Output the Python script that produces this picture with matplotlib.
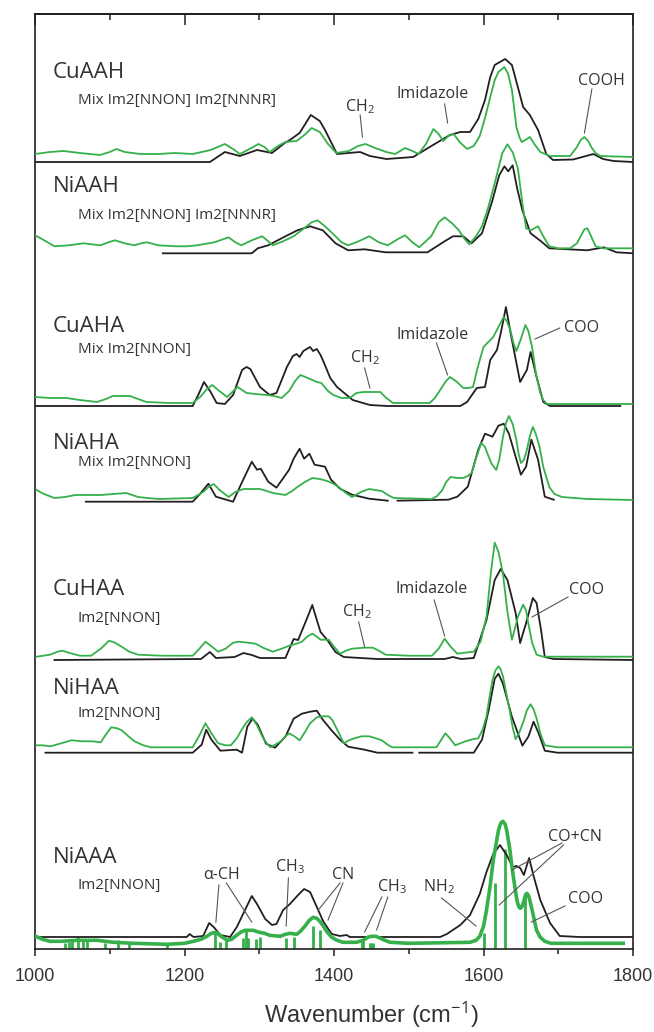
import numpy as np
import matplotlib
matplotlib.use("Agg")
import matplotlib.pyplot as plt
from matplotlib.ticker import MultipleLocator

plt.rcParams['font.family'] = ['Open Sans', 'DejaVu Sans']
plt.rcParams['mathtext.fontset'] = 'custom'
plt.rcParams['mathtext.rm'] = 'Open Sans'
plt.rcParams['mathtext.it'] = 'Open Sans:italic'

nan = np.nan

# --- spectra: wavenumber (cm-1) and height above each trace's own baseline ---
# experimental (black) / computed (green)
cuaah_exp_wn = [1000, 1234, 1254, 1274, 1297, 1317, 1334, 1341, 1354, 1369, 1381, 1388, 1404, 1435, 1448, 1470, 1506, 1528, 1555, 1569, 1582, 1593, 1602, 1609, 1615, 1629, 1638, 1647, 1653, 1662, 1673, 1684, 1693, 1720, 1747, 1760, 1774, 1800]
cuaah_exp_h = [0, 0, 10, 6, 12, 9, 19, 22, 29, 47, 41, 32, 8, 10, 6, 3, 5, 15, 27, 30, 30, 43, 62, 85, 97, 103, 97, 72, 55, 47, 32, 8, 2, 2.5, 8, 3, 1, 0]
cuaah_calc_wn = [1000, 1020, 1038, 1060, 1087, 1100, 1109, 1120, 1141, 1165, 1187, 1211, 1235, 1254, 1265, 1274, 1287, 1299, 1307, 1314, 1325, 1335, 1350, 1362, 1370, 1381, 1392, 1403, 1420, 1432, 1442, 1455, 1470, 1482, 1495, 1505, 1513, 1523, 1533, 1540, 1546, 1553, 1560, 1568, 1578, 1587, 1595, 1602, 1609, 1615, 1620, 1628, 1633, 1638, 1641, 1644, 1648, 1651, 1656, 1662, 1668, 1676, 1689, 1716, 1725, 1730, 1735, 1740, 1745, 1750, 1756, 1800]
cuaah_calc_h = [2, 4, 5, 3, 1, 4, 7, 4, 2, 2, 3, 2, 6, 12, 7, 2, 7, 12, 9, 4, 10, 14, 15, 22, 28, 24, 12, 3, 5, 10, 12, 8, 4, 2, 8, 5, 2, 12, 27, 22, 15, 20, 22, 14, 7, 10, 20, 38, 59, 76, 84, 89, 82, 66, 48, 29, 19, 14, 16, 19, 12, 4, 0, 0, 9, 16, 19, 15, 8, 3, 0, -1]

niaah_exp_wn = [1171, 1290, 1298, 1312, 1335, 1351, 1368, 1385, 1402, 1419, 1441, 1469, 1525, 1548, 1559, 1573, 1584, 1598, 1612, 1621, 1628, 1633, 1639, 1645, 1652, 1663, 1677, 1688, 1739, 1761, 1778, 1800]
niaah_exp_h = [0, 0, 5, 8, 17, 23, 27, 23, 10, 3, 4, 1, 1, 12, 17, 17, 10, 20, 53, 78, 87, 82, 88, 65, 43, 20, 12, 5, 3, 6, 1, 0]
niaah_calc_wn = [1000, 1010, 1026, 1045, 1065, 1076, 1088, 1098, 1107, 1120, 1133, 1142, 1150, 1165, 1189, 1203, 1217, 1240, 1259, 1268, 1276, 1290, 1304, 1312, 1318, 1332, 1346, 1360, 1370, 1378, 1388, 1402, 1410, 1419, 1433, 1447, 1460, 1472, 1485, 1495, 1505, 1514, 1530, 1540, 1548, 1558, 1567, 1575, 1581, 1590, 1598, 1606, 1615, 1625, 1632, 1639, 1646, 1652, 1657, 1663, 1668, 1673, 1680, 1688, 1700, 1716, 1725, 1730, 1735, 1739, 1744, 1750, 1760, 1800]
niaah_calc_h = [13, 9, 2, 3, 5, 4, 3, 6, 8, 5, 3, 5, 6, 3, 2, 2, 3, 6, 11, 6, 3, 8, 12, 7, 3, 7, 12, 20, 26, 28, 22, 12, 6, 3, 7, 12, 6, 3, 9, 13, 6, 1, 12, 26, 31, 25, 18, 9, 4, 12, 22, 40, 65, 95, 104, 96, 80, 45, 20, 18, 20, 22, 12, 2, 0, 0, 5, 12, 19, 20, 12, 2, 0, 0]

cuaha_exp_wn = [1000, 1211, 1219, 1226, 1235, 1243, 1254, 1265, 1277, 1283, 1288, 1301, 1314, 1323, 1337, 1345, 1350, 1354, 1359, 1368, 1372, 1377, 1382, 1385, 1395, 1404, 1425, 1448, 1471, 1569, 1578, 1591, 1602, 1609, 1618, 1624, 1630, 1638, 1649, 1658, 1663, 1671, 1680, 1689, 1783]
cuaha_exp_h = [0, 0, 12, 24, 14, 3, 2, 11, 36, 39, 37, 19, 11, 13, 39, 50, 52, 49, 55, 59, 55, 57, 51, 46, 28, 19, 6, 1, 0, 0, 4, 18, 19, 46, 56, 76, 99, 66, 24, 36, 54, 29, 4, 0, 0]
cuaha_calc_wn = [1000, 1020, 1042, 1060, 1083, 1095, 1104, 1115, 1127, 1138, 1149, 1180, 1211, 1221, 1230, 1237, 1245, 1257, 1264, 1271, 1277, 1283, 1295, 1310, 1320, 1330, 1340, 1348, 1355, 1365, 1377, 1383, 1392, 1399, 1410, 1421, 1430, 1439, 1452, 1462, 1470, 1479, 1528, 1535, 1542, 1549, 1555, 1563, 1573, 1580, 1586, 1592, 1600, 1613, 1620, 1627, 1631, 1636, 1640, 1644, 1650, 1656, 1660, 1665, 1670, 1676, 1680, 1685, 1800]
cuaha_calc_h = [6, 5, 5, 3, 1, 4, 7, 7, 7, 4, 1, 0, 0, 6, 14, 18, 13, 6, 11, 16, 13, 10, 9, 8, 7, 5, 12, 22, 28, 25, 21, 20, 12, 8, 5, 5, 10, 11, 11, 11, 5, 0, 0, 5, 13, 21, 26, 22, 15, 15, 16, 35, 56, 66, 76, 86, 82, 73, 60, 52, 64, 78, 72, 56, 30, 10, 3, -1, -1]

niaha_exp_wn = [1068, 1211, 1221, 1232, 1242, 1265, 1276, 1290, 1297, 1302, 1312, 1323, 1340, 1346, 1354, 1360, 1367, 1374, 1388, 1396, 1408, 1424, 1447, 1472, nan, 1485, 1553, 1565, 1579, 1593, 1602, 1612, 1620, 1627, 1634, 1650, 1657, 1664, 1673, 1682, 1694]
niaha_exp_h = [0, 0, 8, 18, 5, 0, 18, 40, 32, 33, 20, 14, 32, 43, 53, 43, 48, 37, 35, 22, 13, 7, 3, 1, nan, 1, 2, 5, 15, 52, 68, 65, 76, 78, 68, 27, 35, 62, 42, 5, 2]
niaha_calc_wn = [1002, 1012, 1026, 1040, 1054, 1070, 1088, 1105, 1122, 1130, 1138, 1150, 1166, 1211, 1225, 1232, 1239, 1247, 1259, 1268, 1279, 1290, 1301, 1310, 1318, 1335, 1344, 1351, 1361, 1371, 1381, 1391, 1400, 1408, 1416, 1424, 1436, 1447, 1455, 1464, 1472, 1480, 1531, 1538, 1545, 1550, 1556, 1565, 1573, 1579, 1584, 1590, 1597, 1602, 1606, 1611, 1617, 1621, 1626, 1630, 1634, 1639, 1644, 1647, 1650, 1654, 1658, 1662, 1666, 1670, 1675, 1680, 1688, 1695, 1705, 1739, 1800]
niaha_calc_h = [10, 6, 2, 3, 5, 5, 5, 6, 7, 5, 3, 2, 1, 2, 8, 13, 16, 10, 3, 8, 11, 11, 11, 9, 7, 5, 9, 13, 18, 22, 21, 19, 16, 12, 7, 3, 8, 11, 10, 9, 5, 2, 1, 4, 10, 18, 23, 22, 22, 24, 27, 42, 57, 53, 45, 36, 30, 40, 63, 77, 84, 76, 60, 46, 37, 40, 50, 64, 73, 66, 53, 33, 13, 6, 3, 1, 0]

cuhaa_exp_wn = [1026, 1222, 1234, 1242, 1267, 1279, 1290, 1301, 1335, 1346, 1352, 1363, 1371, 1377, 1382, 1391, 1402, 1413, 1458, 1548, 1559, 1570, 1587, 1604, 1615, 1623, 1632, 1643, 1649, 1657, 1666, 1671, 1677, 1682, 1694, 1800]
cuhaa_exp_h = [0, 1, 8, 2, 3, 7, 5, 2, 2, 21, 20, 40, 55, 40, 28, 20, 8, 3, 1, 1, 3, 1, 2, 40, 80, 91, 80, 47, 17, 37, 62, 57, 30, 3, 1, 0]
cuhaa_calc_wn = [1002, 1020, 1030, 1037, 1045, 1060, 1075, 1088, 1099, 1107, 1116, 1126, 1138, 1170, 1211, 1220, 1228, 1235, 1245, 1255, 1265, 1273, 1285, 1295, 1305, 1318, 1330, 1340, 1350, 1357, 1364, 1371, 1377, 1382, 1393, 1400, 1408, 1416, 1424, 1440, 1452, 1460, 1469, 1500, 1531, 1540, 1548, 1556, 1565, 1575, 1587, 1596, 1604, 1610, 1615, 1620, 1626, 1632, 1638, 1642, 1646, 1653, 1657, 1660, 1665, 1671, 1680, 1800]
cuhaa_calc_h = [0, 2, 5, 6, 4, 1, 1, 8, 16, 14, 10, 5, 2, 1, 1, 8, 15, 11, 5, 8, 14, 15, 14, 13, 9, 5, 8, 11, 13, 15, 20, 23, 20, 17, 17, 10, 3, 6, 8, 9, 9, 6, 2, 1, 1, 8, 18, 10, 3, 4, 5, 15, 40, 85, 114, 105, 83, 45, 17, 28, 40, 52, 46, 33, 14, 2, 0, 0]

nihaa_exp_wn = [1014, 1211, 1223, 1229, 1236, 1248, 1270, 1277, 1284, 1291, 1298, 1309, 1321, 1335, 1346, 1357, 1368, 1377, 1385, 1396, 1408, 1419, 1441, 1458, 1505, nan, 1514, 1587, 1598, 1607, 1615, 1620, 1626, 1638, 1652, 1660, 1667, 1674, 1682, 1699, 1800]
nihaa_exp_h = [0, 0, 8, 23, 13, 2, 3, 0, 26, 34, 28, 9, 5, 16, 34, 39, 41, 42, 33, 23, 13, 6, 3, 0, 0, nan, 0, 0, 13, 43, 74, 79, 69, 36, 7, 16, 31, 19, 2, 0, 0]
nihaa_calc_wn = [1002, 1010, 1021, 1035, 1049, 1063, 1077, 1088, 1095, 1102, 1110, 1116, 1125, 1133, 1145, 1155, 1211, 1220, 1228, 1236, 1245, 1255, 1262, 1270, 1276, 1283, 1290, 1297, 1304, 1310, 1315, 1322, 1329, 1335, 1340, 1347, 1354, 1361, 1368, 1377, 1385, 1393, 1398, 1402, 1408, 1413, 1420, 1427, 1437, 1447, 1456, 1464, 1471, 1478, 1537, 1543, 1549, 1555, 1562, 1569, 1576, 1585, 1593, 1599, 1604, 1608, 1612, 1616, 1620, 1623, 1626, 1630, 1635, 1639, 1643, 1648, 1654, 1658, 1663, 1667, 1671, 1676, 1682, 1699, 1800]
nihaa_calc_h = [2, 2, 1, 4, 7, 6, 6, 5, 13, 20, 19, 17, 11, 6, 2, 0, 0, 12, 24, 14, 4, 2, 2, 9, 17, 25, 30, 22, 11, 4, 0, 3, 6, 11, 14, 11, 7, 15, 24, 30, 31, 31, 27, 21, 12, 4, 7, 9, 11, 11, 9, 7, 3, 0, 0, 7, 14, 9, 2, 4, 6, 8, 9, 18, 31, 50, 67, 77, 81, 78, 71, 56, 37, 20, 8, 15, 27, 37, 43, 38, 29, 14, 2, 0, 0]

niaaa_exp_wn = [1000, 1203, 1207, 1212, 1225, 1233, 1239, 1248, 1261, 1270, 1281, 1290, 1297, 1308, 1317, 1323, 1332, 1341, 1352, 1360, 1368, 1377, 1386, 1397, 1408, 1417, 1421, 1542, 1551, 1569, 1582, 1595, 1604, 1613, 1622, 1631, 1639, 1644, 1649, 1654, 1661, 1667, 1676, 1689, 1702, 1729, 1799]
niaaa_exp_h = [0, 0, 3, 0, 1, 14, 10, 2, 0, 10, 27, 41, 33, 18, 12, 13, 27, 33, 42, 48, 45, 30, 15, 3, 1, 2, 0, 0, 3, 12, 22, 43, 65, 83, 92, 82, 70, 71, 69, 62, 79, 61, 37, 14, 1, 0, 0]
niaaa_calc_wn = [1001, 1010, 1020, 1035, 1056, 1070, 1083, 1105, 1132, 1176, 1200, 1212, 1222, 1230, 1236, 1242, 1249, 1257, 1263, 1268, 1275, 1281, 1292, 1300, 1307, 1314, 1328, 1335, 1341, 1350, 1355, 1361, 1367, 1372, 1377, 1381, 1386, 1390, 1397, 1404, 1412, 1421, 1430, 1439, 1445, 1450, 1456, 1462, 1468, 1475, 1500, 1582, 1590, 1595, 1600, 1604, 1609, 1613, 1617, 1620, 1623, 1626, 1629, 1631, 1635, 1638, 1642, 1645, 1647, 1649, 1651, 1654, 1656, 1658, 1660, 1662, 1666, 1671, 1676, 1682, 1690, 1787]
niaaa_calc_h = [7, 4, 2, 2, 3, 3, 3, 1, 0, -1, 0, 2, 4, 7, 10, 11, 7, 3, 4, 7, 11, 13, 13, 11, 10, 8, 7, 9, 10, 9, 12, 17, 23, 26, 25, 22, 17, 12, 6, 3, 1, 1, 1, 3, 6, 7, 7, 5, 3, 1, 0, 1, 3, 7, 17, 33, 58, 83, 100, 113, 120, 122, 119, 113, 95, 77, 56, 42, 37, 35, 36, 42, 48, 50, 48, 43, 30, 13, 6, 2, 0, 0]

# computed normal modes for NiAAA (stick spectrum)
stick_wn = [1040, 1045, 1050, 1057, 1064, 1070, 1093, 1111, 1126, 1177, 1241, 1247, 1256, 1278, 1282, 1285, 1296, 1301, 1336, 1346, 1372, 1381, 1437, 1439, 1448, 1450, 1452, 1600, 1615, 1629, 1655]
stick_h = [6, 7, 9, 12, 10, 10, 6, 9, 7, 6, 17, 7, 8, 11, 19, 11, 10, 12, 11, 12, 23, 19, 9, 10, 6, 6, 6, 16, 66, 100, 56]

names = ["CuAAH", "NiAAH", "CuAHA", "NiAHA", "CuHAA", "NiHAA", "NiAAA"]
subtitles = ["Mix Im2[NNON] Im2[NNNR]", "Mix Im2[NNON] Im2[NNNR]", "Mix Im2[NNON]",
             "Mix Im2[NNON]", "Im2[NNON]", "Im2[NNON]", "Im2[NNON]"]

# layout (vertical stacking, in axis units)
exp_offset = [787, 695.7, 543, 447.3, 289, 196.3, 12]
calc_offset = [793, 700.7, 546, 449, 292.3, 201.7, 5.7]
name_y = [876, 762.3, 622.3, 505.7, 359.7, 260.7, 91.7]
sub_y = [848, 733, 599, 486, 330.7, 235.7, 63]

exp_curves = [(cuaah_exp_wn, cuaah_exp_h), (niaah_exp_wn, niaah_exp_h), (cuaha_exp_wn, cuaha_exp_h),
              (niaha_exp_wn, niaha_exp_h), (cuhaa_exp_wn, cuhaa_exp_h), (nihaa_exp_wn, nihaa_exp_h),
              (niaaa_exp_wn, niaaa_exp_h)]
calc_curves = [(cuaah_calc_wn, cuaah_calc_h), (niaah_calc_wn, niaah_calc_h), (cuaha_calc_wn, cuaha_calc_h),
               (niaha_calc_wn, niaha_calc_h), (cuhaa_calc_wn, cuhaa_calc_h), (nihaa_calc_wn, nihaa_calc_h),
               (niaaa_calc_wn, niaaa_calc_h)]

# band assignments: text, text pos, leader segments
notes = [
    ("CH$_2$", 1435, 842, [(1435, 834, 1438, 812)]),
    ("Imidazole", 1532, 855, [(1548, 845, 1552, 826)]),
    ("COOH", 1758, 868, [(1745, 860, 1735, 816)]),
    ("CH$_2$", 1441, 591, [(1441, 581, 1448, 561)]),
    ("Imidazole", 1532, 614, [(1537, 606, 1552, 574)]),
    ("COO", 1731, 621, [(1702, 621, 1669, 610)]),
    ("CH$_2$", 1430, 337, [(1433, 327, 1441, 302)]),
    ("Imidazole", 1531, 360, [(1534, 349, 1548, 313)]),
    ("COO", 1738, 359, [(1713, 352, 1665, 332)]),
    ("α-CH", 1250, 74, [(1246, 64, 1242, 27), (1256, 66, 1290, 27)]),
    ("CH$_3$", 1341, 82, [(1339, 71, 1336, 23)]),
    ("CN", 1412, 74, [(1408, 66, 1379, 39), (1412, 66, 1392, 29)]),
    ("CH$_3$", 1477, 62, [(1464, 52, 1441, 17), (1472, 52, 1457, 19)]),
    ("NH$_2$", 1540, 62, [(1544, 51, 1590, 23)]),
    ("CO+CN", 1722, 112, [(1705, 106, 1638, 79), (1707, 104, 1621, 44)]),
    ("COO", 1737, 50, [(1709, 43, 1664, 27)]),
]

BLACK = '#231f20'
GREEN = '#35b04a'
GREY = '#555555'

fig = plt.figure(figsize=(6.54, 10.32), dpi=100)
ax = fig.add_axes([35 / 654, 1 - 949 / 1032, 598 / 654, 935 / 1032])

ax.vlines(stick_wn, 0, stick_h, color=GREEN, lw=2.0, zorder=2)

for i in range(len(names)):
    wn, h = exp_curves[i]
    ax.plot(wn, np.array(h) + exp_offset[i], color=BLACK, lw=1.3, zorder=3,
            solid_joinstyle='round')
    wn, h = calc_curves[i]
    lw = 2.6 if names[i] == "NiAAA" else 1.3
    ax.plot(wn, np.array(h) + calc_offset[i], color=GREEN, lw=lw, zorder=4,
            solid_joinstyle='round')
    ax.text(1024, name_y[i], names[i], fontsize=16, color='#333333', ha='left', va='center')
    ax.text(1057, sub_y[i], subtitles[i], fontsize=11, color='#333333', ha='left', va='center')

for txt, tx, ty, segs in notes:
    ax.text(tx, ty, txt, fontsize=11.5, color='#333333', ha='center', va='center')
    for x0, y0, x1, y1 in segs:
        ax.plot([x0, x1], [y0, y1], color=GREY, lw=0.8, zorder=5)

ax.set_xlim(1000, 1800)
ax.set_ylim(0, 935)
ax.set_yticks([])
ax.set_xticks([1000, 1200, 1400, 1600, 1800])
ax.xaxis.set_minor_locator(MultipleLocator(100))
ax.tick_params(which='major', direction='out', length=5, width=1.1, color=BLACK, pad=9,
               labelsize=13, labelcolor='#333333')
ax.tick_params(which='minor', direction='out', length=3.5, width=1.1, color=BLACK)
for lab in ax.get_xticklabels():
    lab.set_family('Liberation Sans')
for sp in ax.spines.values():
    sp.set_linewidth(1.2)
    sp.set_color(BLACK)

top = ax.secondary_xaxis('top')
top.set_xticks([1000, 1200, 1400, 1600, 1800])
top.xaxis.set_minor_locator(MultipleLocator(100))
top.tick_params(which='major', direction='in', length=8, width=1.1, color=BLACK, labeltop=False)
top.tick_params(which='minor', direction='in', length=4.5, width=1.1, color=BLACK)
top.spines['top'].set_linewidth(1.2)

fig.text(371 / 654, 1 - 1015 / 1032, 'Wavenumber (cm$^{-1}$)', fontsize=17, color='#333333',
         family='Liberation Sans', ha='center', va='center')

fig.savefig('out.png', dpi=100)
